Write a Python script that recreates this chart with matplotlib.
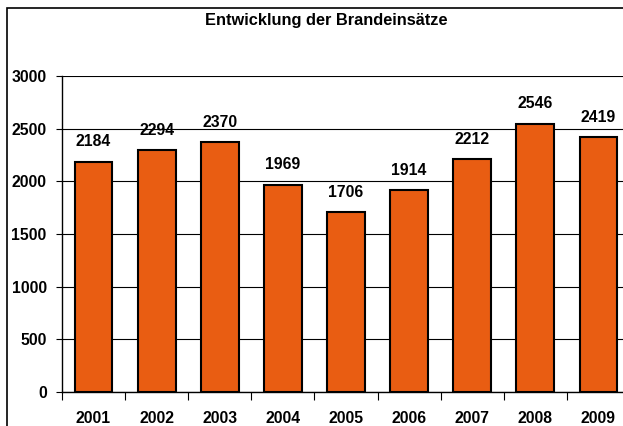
import matplotlib.pyplot as plt
from matplotlib.patches import Rectangle
import numpy as np

plt.rcParams['font.family'] = ['Liberation Sans', 'DejaVu Sans']

years = ['2001', '2002', '2003', '2004', '2005', '2006', '2007', '2008', '2009']
einsaetze = [2184, 2294, 2370, 1969, 1706, 1914, 2212, 2546, 2419]
y_ticks = [0, 500, 1000, 1500, 2000, 2500, 3000]

W, H = 623, 426
fig = plt.figure(figsize=(W / 100, H / 100), dpi=100)

# plot area runs past the right edge, like the cropped original
ax = fig.add_axes([62 / W, (H - 392) / H, (630 - 62) / W, (392 - 76) / H])

x = np.arange(len(years))
bars = ax.bar(x, einsaetze, width=0.6, color='#E95D12', edgecolor='black',
              linewidth=1.5, zorder=3)

for xi, v in zip(x, einsaetze):
    ax.annotate(str(v), (xi, v), xytext=(0, 9), textcoords='offset points',
                ha='center', va='bottom', fontsize=11.3, fontweight='bold')

ax.set_xlim(-0.5, len(years) - 0.5)
ax.set_ylim(0, 3000)
ax.set_yticks(y_ticks)
ax.set_yticklabels([str(t) for t in y_ticks], fontsize=11.3, fontweight='bold')
ax.set_xticks(x)
ax.set_xticklabels(years, fontsize=11.3, fontweight='bold')
ax.set_xticks(np.arange(len(years) + 1) - 0.5, minor=True)
ax.tick_params(axis='x', which='major', length=0, pad=14)
ax.tick_params(axis='x', which='minor', length=6, direction='out', width=0.8)
ax.tick_params(axis='y', length=4, width=0.8, pad=7)

ax.yaxis.grid(True, color='black', linewidth=0.8, zorder=0)
ax.set_axisbelow(True)
for s in ['top', 'right']:
    ax.spines[s].set_visible(False)
ax.spines['left'].set_linewidth(1.0)
ax.spines['bottom'].set_linewidth(1.0)

fig.text(326 / W, 1 - 20 / H, 'Entwicklung der Brandeinsätze', ha='center',
         va='center', fontsize=11.8, fontweight='bold')

# chart frame
fig.patches.append(Rectangle((7 / W, -0.2), 2, 1.2 - 8 / H, transform=fig.transFigure,
                             fill=False, edgecolor='black', linewidth=1.2))

fig.savefig('out.png', dpi=100)
